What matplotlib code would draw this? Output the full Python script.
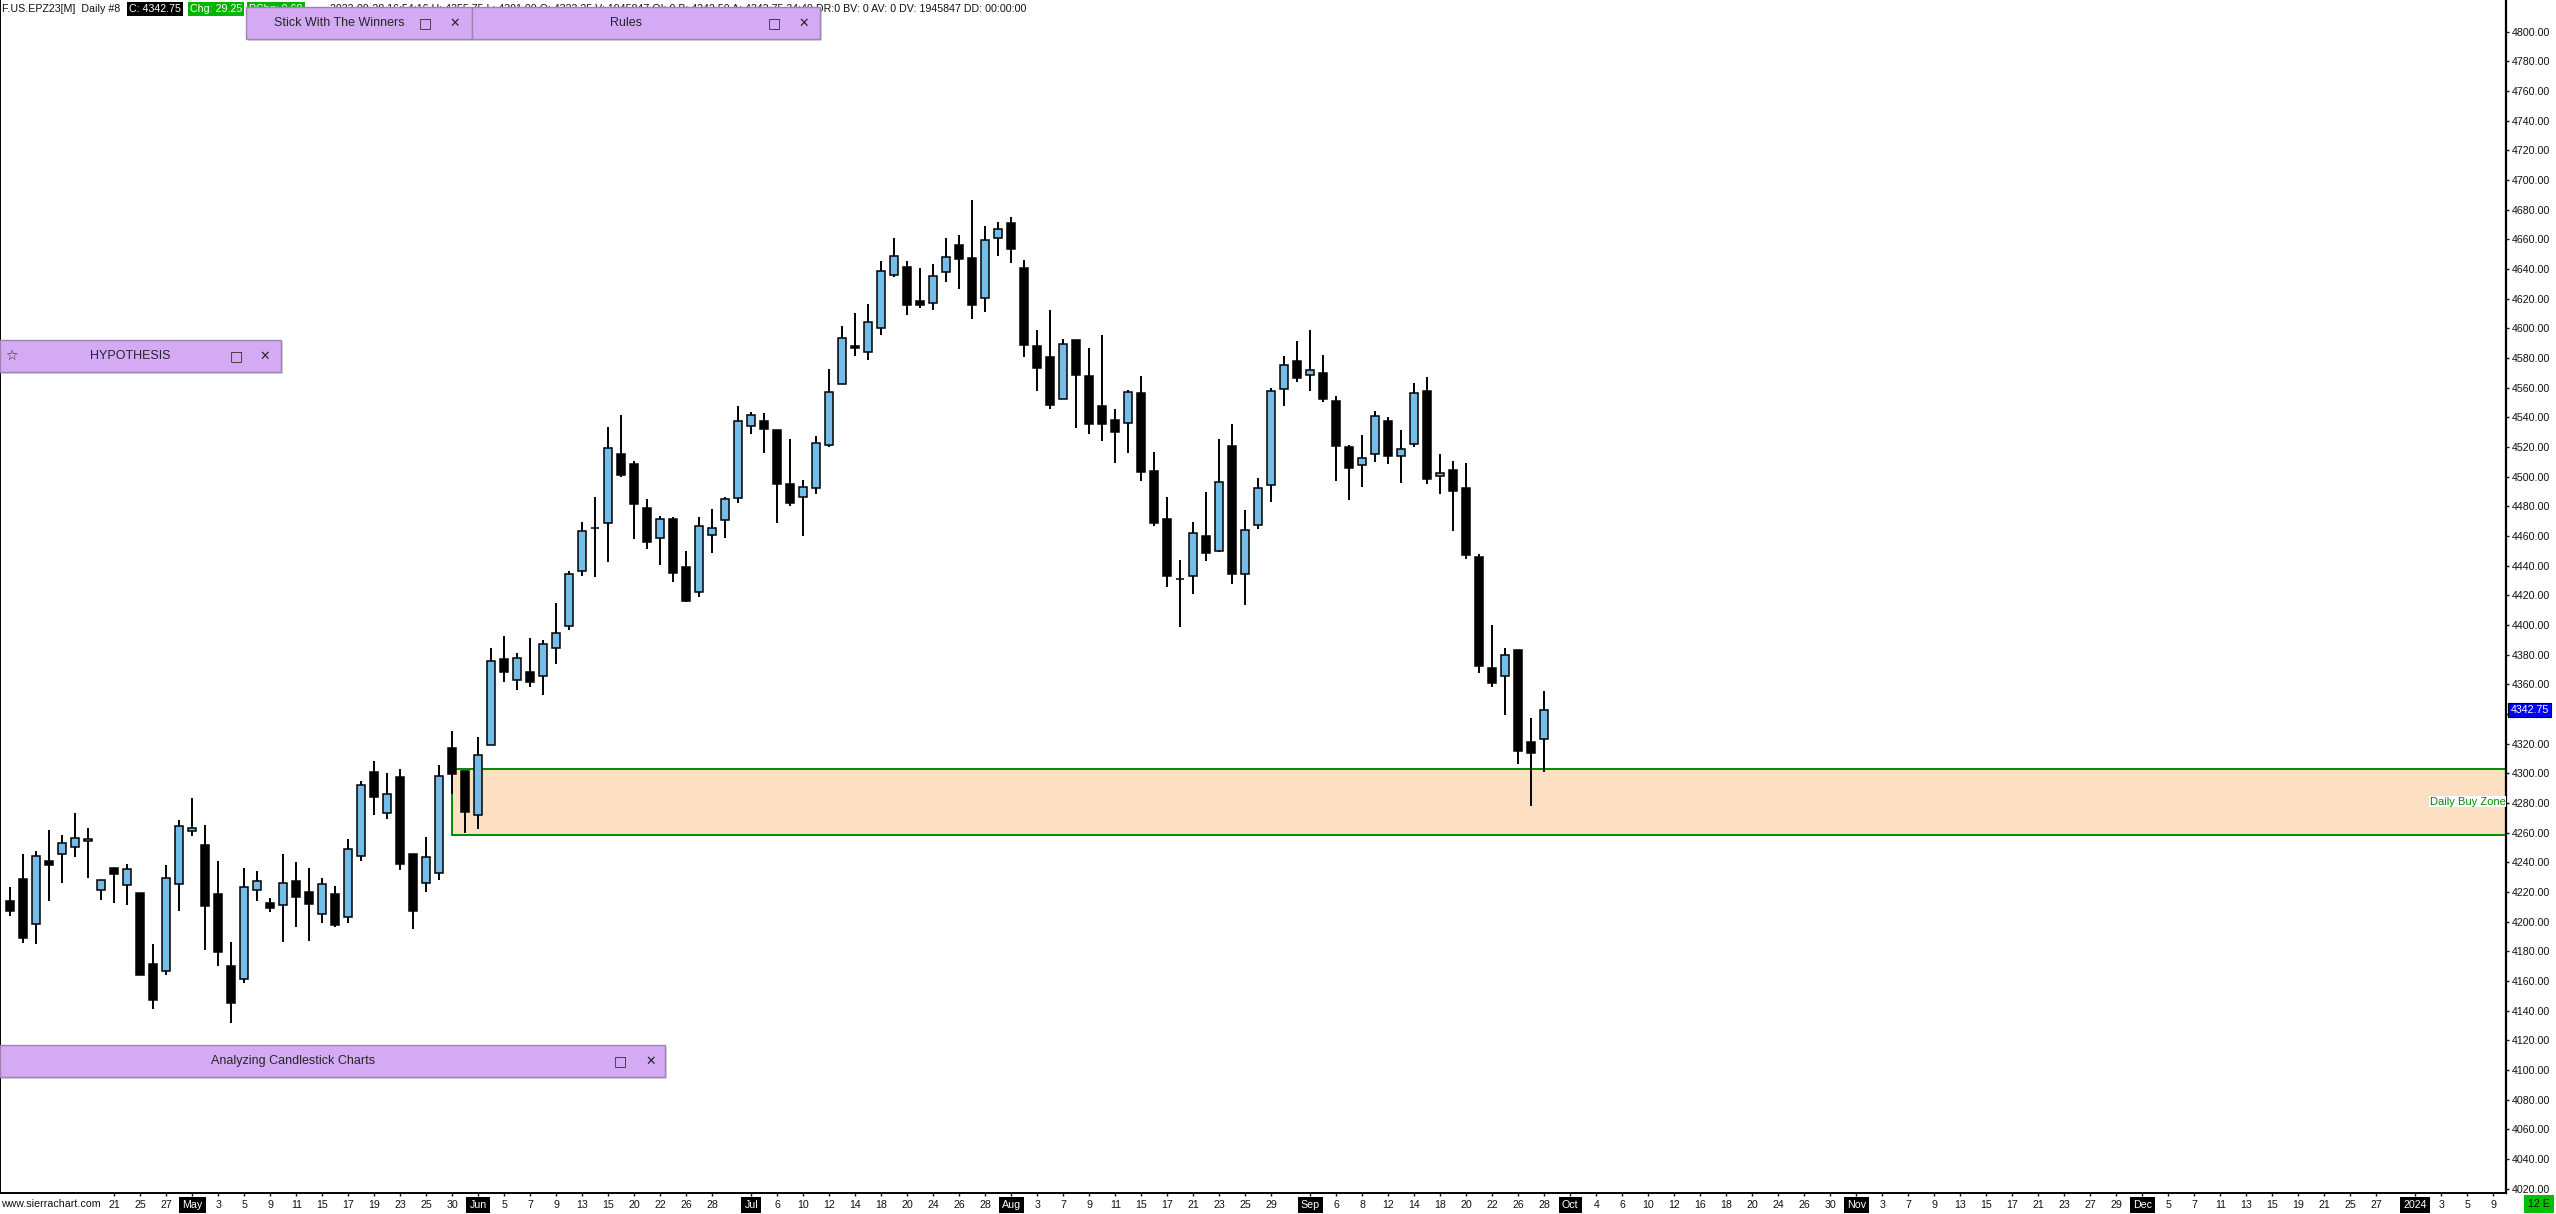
import numpy as np
import matplotlib.pyplot as plt
from matplotlib.patches import Rectangle
import matplotlib.transforms as mtransforms

plt.rcParams['font.family'] = ['Liberation Sans', 'DejaVu Sans']

# ---- data (daily OHLC, F.US.EPZ23, Apr 11 - Sep 28 2023) ----
first_day = '2023-04-11'
last_day = '2023-09-28'
axis_end = '2024-01-12'
holidays = ['2023-05-29', '2023-06-19', '2023-07-04', '2023-09-04']

opens = [4213.7, 4228.8, 4198.2, 4240.9, 4245.4, 4250.6, 4254.2, 4221.2, 4236.2, 4224.5,
         4219.4, 4171.5, 4166.5, 4225.2, 4260.9, 4251.5, 4218.5, 4169.9, 4161.2, 4221.2,
         4212.4, 4211.0, 4227.2, 4219.9, 4205.0, 4218.5, 4203.1, 4244.0, 4300.8, 4273.6,
         4297.4, 4245.4, 4225.9, 4232.7, 4316.9, 4301.3, 4272.2, 4318.9, 4377.1, 4362.7,
         4368.2, 4365.3, 4384.4, 4399.5, 4436.1, 4465.5, 4468.6, 4515.1, 4508.4, 4478.7,
         4458.5, 4471.3, 4438.9, 4422.1, 4460.5, 4470.6, 4485.5, 4534.0, 4537.4, 4531.3,
         4494.9, 4486.1, 4492.2, 4521.2, 4562.3, 4588.2, 4583.9, 4600.1, 4635.8, 4641.2,
         4618.2, 4616.9, 4637.8, 4656.0, 4647.2, 4620.3, 4660.7, 4670.8, 4640.5, 4587.9,
         4580.5, 4552.2, 4592.0, 4567.7, 4547.5, 4538.0, 4536.0, 4556.4, 4503.9, 4471.5,
         4431.3, 4432.9, 4459.8, 4449.8, 4520.4, 4434.1, 4467.2, 4494.1, 4558.9, 4577.7,
         4568.3, 4569.9, 4551.0, 4520.0, 4507.6, 4515.0, 4537.5, 4513.9, 4521.8, 4557.7,
         4500.2, 4504.3, 4492.1, 4445.6, 4370.8, 4365.4, 4383.1, 4321.1, 4323.25]
highs = [4223.4, 4245.6, 4247.7, 4261.8, 4258.5, 4273.3, 4263.2, 4227.9, 4236.2, 4238.9,
         4219.4, 4185.0, 4238.2, 4268.6, 4283.4, 4265.2, 4240.9, 4186.3, 4236.2, 4234.2,
         4216.0, 4245.6, 4240.3, 4236.3, 4229.5, 4223.8, 4255.5, 4294.8, 4308.3, 4300.3,
         4303.0, 4245.4, 4257.0, 4305.6, 4328.5, 4301.3, 4324.4, 4384.6, 4392.6, 4381.0,
         4391.3, 4389.9, 4414.9, 4436.4, 4469.4, 4486.2, 4533.6, 4541.6, 4510.6, 4484.8,
         4473.3, 4472.7, 4450.0, 4472.9, 4478.3, 4486.1, 4547.7, 4543.7, 4543.0, 4531.3,
         4525.5, 4497.8, 4527.3, 4572.7, 4601.6, 4610.4, 4616.5, 4645.5, 4661.0, 4645.5,
         4640.5, 4643.4, 4660.9, 4663.0, 4686.6, 4669.0, 4671.7, 4675.1, 4646.1, 4598.9,
         4612.4, 4592.9, 4592.0, 4586.8, 4595.5, 4545.7, 4558.5, 4567.9, 4516.7, 4486.3,
         4443.9, 4469.5, 4489.7, 4525.4, 4535.5, 4477.5, 4499.1, 4559.5, 4581.3, 4591.4,
         4598.9, 4582.0, 4554.4, 4521.1, 4528.1, 4544.3, 4540.2, 4531.4, 4563.1, 4567.2,
         4515.3, 4510.5, 4509.2, 4447.8, 4400.0, 4384.3, 4383.1, 4337.3, 4355.75]
lows = [4204.1, 4185.9, 4185.2, 4214.2, 4226.3, 4243.8, 4229.7, 4214.9, 4212.8, 4211.5,
        4164.3, 4141.4, 4164.3, 4207.4, 4258.0, 4181.2, 4170.4, 4131.9, 4158.9, 4214.2,
        4206.8, 4186.5, 4196.7, 4187.0, 4199.4, 4196.6, 4199.4, 4241.1, 4272.2, 4269.5,
        4235.1, 4195.3, 4219.7, 4228.3, 4286.4, 4260.1, 4262.8, 4318.9, 4361.7, 4356.4,
        4358.4, 4353.1, 4373.8, 4396.4, 4433.2, 4432.5, 4442.7, 4500.1, 4458.3, 4451.5,
        4440.7, 4429.3, 4415.8, 4419.2, 4448.4, 4458.9, 4482.5, 4529.1, 4516.2, 4469.1,
        4480.5, 4460.3, 4488.4, 4520.3, 4562.3, 4581.6, 4578.9, 4595.8, 4634.4, 4609.3,
        4614.0, 4612.6, 4631.5, 4626.8, 4606.6, 4611.3, 4649.0, 4644.3, 4580.9, 4558.0,
        4545.9, 4552.2, 4533.1, 4529.0, 4524.3, 4509.5, 4516.2, 4497.3, 4467.0, 4425.9,
        4398.9, 4421.2, 4443.4, 4449.0, 4427.8, 4413.7, 4464.9, 4483.1, 4547.8, 4564.0,
        4558.0, 4550.5, 4497.3, 4484.5, 4493.2, 4510.1, 4508.7, 4495.9, 4520.2, 4495.3,
        4488.5, 4463.6, 4444.7, 4367.8, 4358.4, 4339.5, 4306.5, 4278.2, 4301.0]
closes = [4207.4, 4189.2, 4244.1, 4238.5, 4252.8, 4256.2, 4255.5, 4227.9, 4232.4, 4235.3,
          4164.3, 4147.4, 4229.2, 4264.3, 4262.9, 4210.8, 4179.4, 4145.4, 4223.2, 4227.2,
          4209.0, 4225.9, 4216.9, 4212.2, 4225.2, 4198.0, 4248.8, 4291.9, 4284.2, 4285.9,
          4239.2, 4206.9, 4243.3, 4297.9, 4299.8, 4274.1, 4312.1, 4375.5, 4368.0, 4377.6,
          4361.3, 4387.0, 4394.5, 4434.2, 4463.1, 4465.5, 4519.2, 4501.4, 4481.9, 4456.2,
          4471.3, 4435.3, 4416.5, 4466.6, 4465.2, 4484.8, 4537.4, 4541.4, 4532.4, 4495.3,
          4482.5, 4492.9, 4522.5, 4556.9, 4593.3, 4587.0, 4604.1, 4638.5, 4648.6, 4616.0,
          4616.0, 4635.1, 4647.9, 4647.0, 4616.0, 4659.4, 4666.8, 4653.7, 4589.0, 4573.5,
          4548.6, 4589.3, 4568.8, 4535.8, 4535.8, 4530.4, 4556.9, 4503.4, 4469.0, 4433.3,
          4431.0, 4461.8, 4448.4, 4496.2, 4434.6, 4463.8, 4492.1, 4557.5, 4575.0, 4566.7,
          4571.7, 4552.6, 4520.9, 4506.0, 4512.3, 4540.7, 4514.1, 4518.4, 4556.2, 4498.6,
          4502.2, 4490.5, 4447.4, 4372.6, 4361.1, 4379.5, 4315.3, 4313.5, 4342.75]

zone_start = '2023-05-30'
zone_low = 4258.75
zone_high = 4303.0
zone_label = 'Daily Buy Zone'

last_price = 4342.75
price_ticks = list(range(4020, 4801, 20))

tick_dates = ['2023-04-21', '2023-04-25', '2023-04-27',
              '2023-05-01', '2023-05-03', '2023-05-05', '2023-05-09', '2023-05-11', '2023-05-15',
              '2023-05-17', '2023-05-19', '2023-05-23', '2023-05-25', '2023-05-30',
              '2023-06-01', '2023-06-05', '2023-06-07', '2023-06-09', '2023-06-13', '2023-06-15',
              '2023-06-20', '2023-06-22', '2023-06-26', '2023-06-28',
              '2023-07-03', '2023-07-06', '2023-07-10', '2023-07-12', '2023-07-14', '2023-07-18',
              '2023-07-20', '2023-07-24', '2023-07-26', '2023-07-28',
              '2023-08-01', '2023-08-03', '2023-08-07', '2023-08-09', '2023-08-11', '2023-08-15',
              '2023-08-17', '2023-08-21', '2023-08-23', '2023-08-25', '2023-08-29',
              '2023-09-01', '2023-09-06', '2023-09-08', '2023-09-12', '2023-09-14', '2023-09-18',
              '2023-09-20', '2023-09-22', '2023-09-26', '2023-09-28',
              '2023-10-02', '2023-10-04', '2023-10-06', '2023-10-10', '2023-10-12', '2023-10-16',
              '2023-10-18', '2023-10-20', '2023-10-24', '2023-10-26', '2023-10-30',
              '2023-11-01', '2023-11-03', '2023-11-07', '2023-11-09', '2023-11-13', '2023-11-15',
              '2023-11-17', '2023-11-21', '2023-11-23', '2023-11-27', '2023-11-29',
              '2023-12-01', '2023-12-05', '2023-12-07', '2023-12-11', '2023-12-13', '2023-12-15',
              '2023-12-19', '2023-12-21', '2023-12-25', '2023-12-27',
              '2024-01-01', '2024-01-03', '2024-01-05', '2024-01-09']
month_marks = {'2023-05-01': 'May', '2023-06-01': 'Jun', '2023-07-03': 'Jul',
               '2023-08-01': 'Aug', '2023-09-01': 'Sep', '2023-10-02': 'Oct',
               '2023-11-01': 'Nov', '2023-12-01': 'Dec', '2024-01-01': '2024'}

header_left = 'F.US.EPZ23[M]  Daily #8'
header_close = 'C: 4342.75'
header_chg = 'Chg: 29.25'
header_pchg = 'PChg: 0.68'
header_rest = ('2023-09-28 16:54:16 H: 4355.75 L: 4301.00 O: 4323.25 V: 1945847 OI: 0 '
               'B: 4342.50 A: 4342.75 34:49 DR:0 BV: 0 AV: 0 DV: 1945847 DD: 00:00:00')

# ---- bar calendar ----
days = np.arange(np.datetime64(first_day), np.datetime64(axis_end))
last = np.datetime64(last_day)
past = days[(days <= last) & np.is_busday(days, holidays=holidays)]
future = days[(days > last) & np.is_busday(days)]
calendar = np.concatenate([past, future])
bar_of = {str(d): i for i, d in enumerate(calendar)}

W, H = 2556, 1214
fig = plt.figure(figsize=(W / 100, H / 100), dpi=100)
fig.patch.set_facecolor('white')


def fx(px):
    return px / W


def fy(py):
    return 1 - py / H


ax_right, ax_bottom = 2506, 1193
ax = fig.add_axes([0, fy(ax_bottom), ax_right / W, ax_bottom / H])
ax.set_facecolor('white')

o = np.array(opens)
h = np.array(highs)
l = np.array(lows)
c = np.array(closes)
x = np.arange(len(o))
up = c > o

ax.vlines(x, l, h, color='black', lw=1.4, zorder=3)
ax.bar(x[up], (c - o)[up], bottom=o[up], width=0.64, color='#74bde8',
       edgecolor='black', lw=1.1, zorder=4)
ax.bar(x[~up], (o - c)[~up], bottom=c[~up], width=0.64, color='black',
       edgecolor='black', lw=1.1, zorder=4)

x_left = -10.3 / 13
x_right = x_left + ax_right / 13
ax.set_xlim(x_left, x_right)
ax.set_ylim(4800 - (ax_bottom - 31.7) / 1.4833, 4800 + 31.7 / 1.4833)

# buy zone
zs = bar_of[zone_start]
ax.add_patch(Rectangle((zs, zone_low), x_right - zs, zone_high - zone_low,
                       facecolor='#fde0c2', edgecolor='#008a00', lw=1.4, zorder=1))
blend = mtransforms.blended_transform_factory(ax.transAxes, ax.transData)
ax.text(0.9998, (zone_low + zone_high) / 2, zone_label, transform=blend, ha='right',
        va='center', color='#008a00', fontsize=8,
        bbox=dict(boxstyle='square,pad=0.05', fc='white', ec='none'), zorder=5)

# spines
for side in ['left', 'right', 'bottom']:
    ax.spines[side].set_color('black')
ax.spines['top'].set_visible(False)
ax.spines['right'].set_linewidth(1.6)
ax.spines['left'].set_linewidth(1.4)
ax.spines['bottom'].set_linewidth(1.4)

# price scale
ax.yaxis.tick_right()
ax.set_yticks(price_ticks)
ax.set_yticklabels([f'{p:.2f}' for p in price_ticks])
ax.tick_params(axis='y', direction='out', length=2.5, width=1, pad=1.5,
               labelsize=7.7, colors='#111111')

ax.text(1.0018, last_price, f'{last_price:.2f}', transform=blend, ha='left', va='center',
        color='white', fontsize=7.7,
        bbox=dict(boxstyle='square,pad=0.2', fc='#0000ff', ec='black', lw=0.8),
        zorder=6, clip_on=False)

# date scale
ax.set_xticks([bar_of[d] for d in tick_dates])
ax.set_xticklabels([month_marks.get(d, str(int(d[8:]))) for d in tick_dates])
ax.tick_params(axis='x', direction='out', length=2.5, width=1, pad=2.5,
               labelsize=7.7, colors='#111111')
for d, lab in zip(tick_dates, ax.get_xticklabels()):
    if d in month_marks:
        lab.set_color('white')
        lab.set_bbox(dict(boxstyle='square,pad=0.3', fc='black', ec='none'))

fig.text(fx(1), fy(1204), 'www.sierrachart.com', ha='left', va='center', fontsize=7.7,
         color='#111111', bbox=dict(boxstyle='square,pad=0.3', fc='white', ec='none'),
         zorder=4)
fig.text(fx(2539), fy(1204), '12 E', ha='center', va='center', fontsize=7.7,
         color='#111111', bbox=dict(boxstyle='square,pad=0.35', fc='#00c000', ec='none'),
         zorder=4)

# header line
fig.text(fx(2), fy(11.7), header_left, ha='left', va='baseline', fontsize=7.7,
         color='#111111', zorder=3)
fig.text(fx(129), fy(11.7), header_close, ha='left', va='baseline', fontsize=7.7,
         color='white', bbox=dict(boxstyle='square,pad=0.2', fc='black', ec='none'), zorder=3)
fig.text(fx(190), fy(11.7), header_chg, ha='left', va='baseline', fontsize=7.7,
         color='white', bbox=dict(boxstyle='square,pad=0.2', fc='#00b400', ec='none'), zorder=3)
fig.text(fx(249), fy(11.7), header_pchg, ha='left', va='baseline', fontsize=7.7,
         color='white', bbox=dict(boxstyle='square,pad=0.2', fc='#00b400', ec='none'), zorder=2.8)
fig.text(fx(1026), fy(11.7), header_rest, ha='right', va='baseline', fontsize=7.7,
         color='#111111', zorder=2.5)


# floating panels
def panel(x0, x1, y0, y1, title, title_x, box_x, close_x, star_x=None):
    fig.add_artist(Rectangle((fx(x0 + 2), fy(y1 + 2)), (x1 - x0) / W, (y1 - y0) / H,
                             transform=fig.transFigure, facecolor='#9a9a9a', alpha=0.35,
                             edgecolor='none', zorder=5))
    fig.add_artist(Rectangle((fx(x0), fy(y1)), (x1 - x0) / W, (y1 - y0) / H,
                             transform=fig.transFigure, facecolor='#d3aaf3',
                             edgecolor='#9c86b0', lw=1.0, zorder=6))
    yc = fy((y0 + y1) / 2)
    fig.text(fx(title_x), yc, title, ha='center', va='center', fontsize=9,
             color='#262626', zorder=7)
    fig.text(fx(box_x), yc, '\u25a1', ha='center', va='center', fontsize=10,
             family='DejaVu Sans', color='#262626', zorder=7)
    fig.text(fx(close_x), yc, '\u2715', ha='center', va='center', fontsize=9,
             family='DejaVu Sans', color='#262626', zorder=7)
    if star_x is not None:
        fig.text(fx(star_x), yc, '\u2606', ha='center', va='center', fontsize=10,
                 family='DejaVu Sans', color='#262626', zorder=7)


panel(246, 472, 7, 39, 'Stick With The Winners', 339, 425, 455)
panel(472, 820, 7, 39, 'Rules', 626, 774, 804)
panel(0, 281, 340, 372, 'HYPOTHESIS', 130, 236, 265, star_x=11)
panel(0, 665, 1045, 1077, 'Analyzing Candlestick Charts', 293, 620, 651)

fig.savefig('out.png', dpi=100)
